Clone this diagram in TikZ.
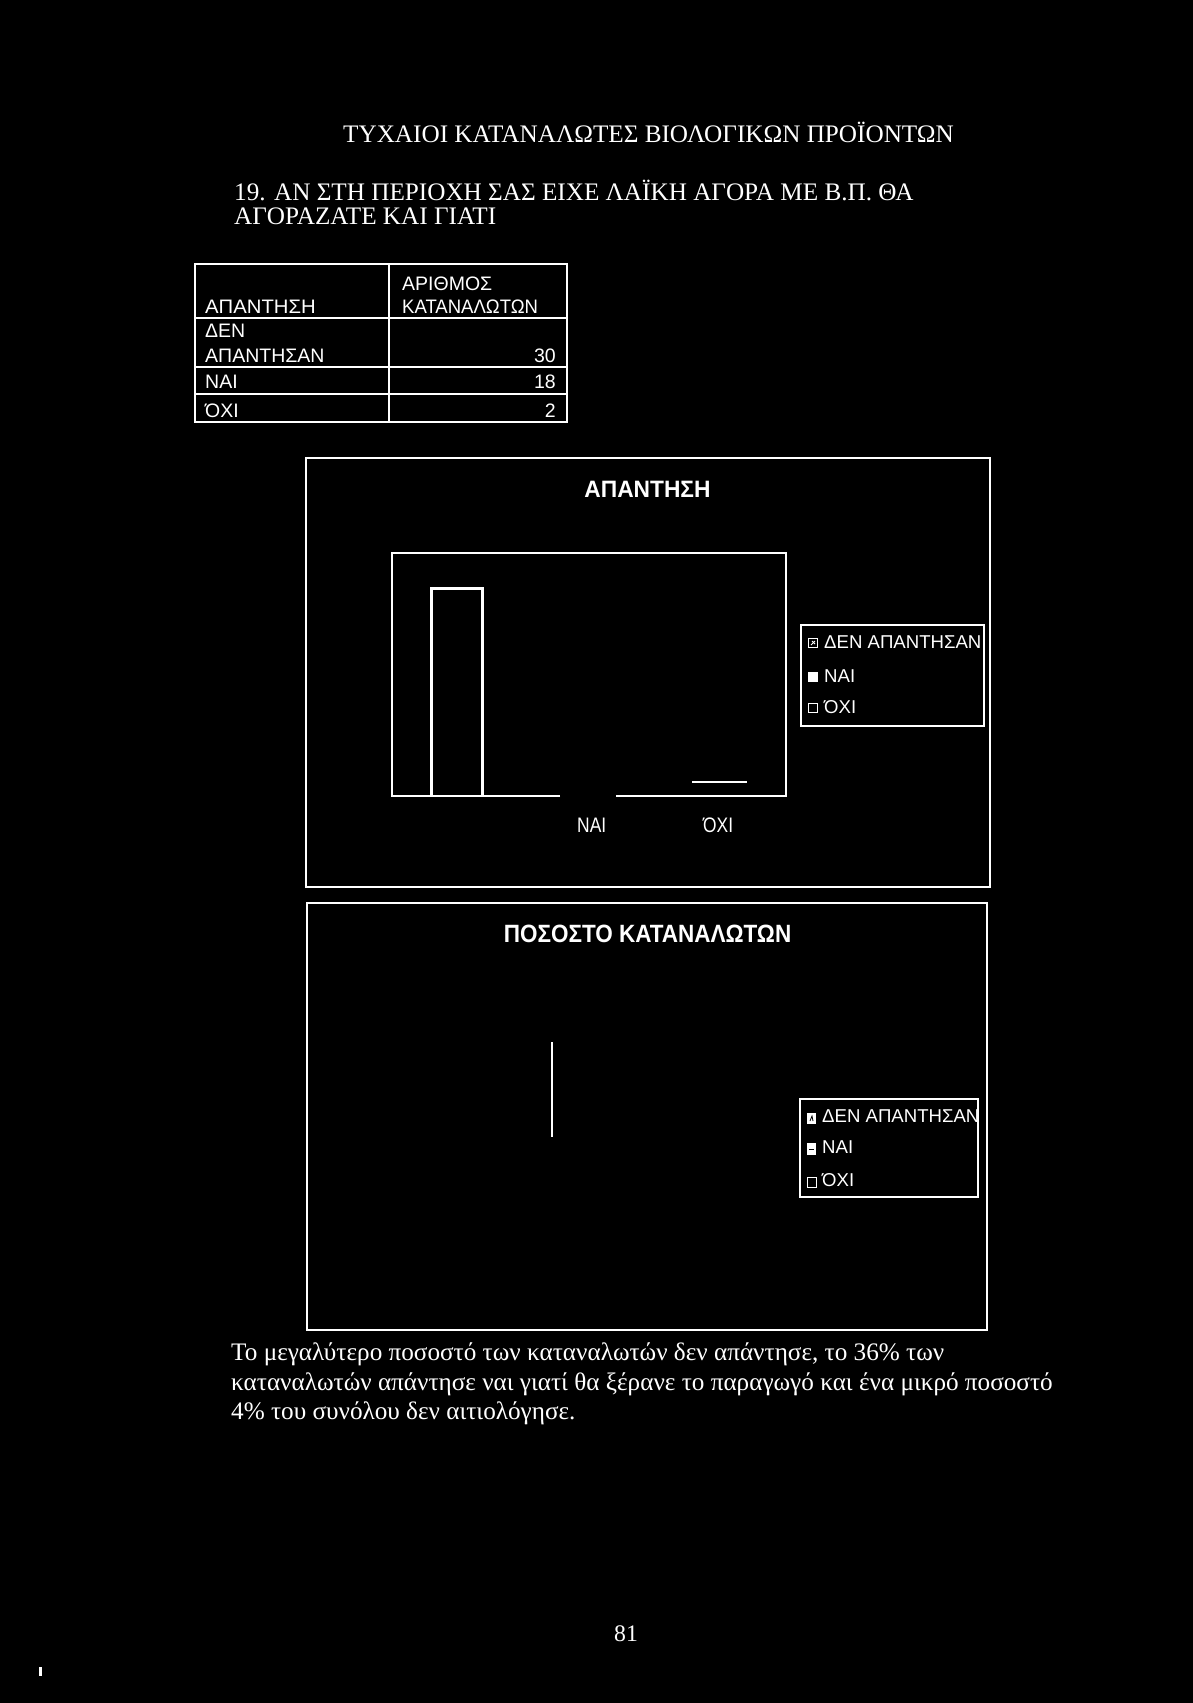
\documentclass[tikz,border=0pt]{standalone}
\usepackage{fontspec}
\usepackage{graphicx}
\setmainfont{Liberation Serif}
\newfontfamily\arialf{Liberation Sans}
\newcommand\serfont{\fontsize{25.2}{30}\selectfont}
\newcommand\parfont{\fontsize{25.2}{30}\selectfont}
\newcommand\tabfont{\arialf\fontsize{19.5}{23}\selectfont}
\newcommand\legfont{\arialf\fontsize{18.6}{22}\selectfont}
\newcommand\catfont{\arialf\fontsize{21}{25}\selectfont}
\newcommand\ttlfont{\arialf\bfseries\fontsize{23.7}{28}\selectfont}
\newcommand\ttlfontb{\arialf\bfseries\fontsize{25}{30}\selectfont}
\begin{document}
\begin{tikzpicture}[x=1pt,y=-1pt,
  txt/.style={text=white, inner sep=0pt, anchor=base west},
  txtr/.style={text=white, inner sep=0pt, anchor=base east},
  txtc/.style={text=white, inner sep=0pt, anchor=base},
  frame/.style={draw=white, line width=1.6pt},
  thin/.style={draw=white, line width=1.3pt},
  barline/.style={draw=white, line width=3pt}]
\fill[black] (0,0) rectangle (1193,1703);
\useasboundingbox (0,0) rectangle (1193,1703);

% headings
\node[txt, font=\serfont] (h1) at (343,142) {ΤΥΧΑΙΟΙ ΚΑΤΑΝΑΛΩΤΕΣ ΒΙΟΛΟΓΙΚΩΝ ΠΡΟΪΟΝΤΩΝ};
\node[txt, font=\serfont] (h2) at (234,200) {19. ΑΝ ΣΤΗ ΠΕΡΙΟΧΗ ΣΑΣ ΕΙΧΕ ΛΑΪΚΗ ΑΓΟΡΑ ΜΕ Β.Π. ΘΑ};
\node[txt, font=\serfont] (h3) at (234,224) {ΑΓΟΡΑΖΑΤΕ ΚΑΙ ΓΙΑΤΙ};

% table
\draw[frame] (195,264) rectangle (567,422);
\draw[frame] (389,264) -- (389,422);
\draw[frame] (195,318) -- (567,318);
\draw[frame] (195,367) -- (567,367);
\draw[frame] (195,394) -- (567,394);
\node[txt, font=\tabfont] (t11) at (205,313) {\scalebox{1.04}[1]{ΑΠΑΝΤΗΣΗ}};
\node[txt, font=\tabfont] (t12a) at (402,290) {ΑΡΙΘΜΟΣ};
\node[txt, font=\tabfont] (t12b) at (402,313) {\scalebox{0.95}[1]{ΚΑΤΑΝΑΛΩΤΩΝ}};
\node[txt, font=\tabfont] (t21a) at (205,337) {ΔΕΝ};
\node[txt, font=\tabfont] (t21b) at (205,362) {ΑΠΑΝΤΗΣΑΝ};
\node[txtr, font=\tabfont] (t22) at (556,362) {30};
\node[txt, font=\tabfont] (t31) at (205,388) {ΝΑΙ};
\node[txtr, font=\tabfont] (t32) at (556,388) {18};
\node[txt, font=\tabfont] (t41) at (205,417) {ΌΧΙ};
\node[txtr, font=\tabfont] (t42) at (556,417) {2};

% chart 1
\draw[frame] (306,458) rectangle (990,887);
\node[txtc, font=\ttlfont] (c1t) at (647.5,497) {\scalebox{0.96}[1]{ΑΠΑΝΤΗΣΗ}};
\draw[thin] (560,796) -- (392,796) -- (392,553) -- (786,553) -- (786,796) -- (616,796);
\draw[barline] (431.5,796) -- (431.5,588.5) -- (482.5,588.5) -- (482.5,796);
\draw[thin] (692,782) -- (747,782);
\node[txt, font=\catfont] (c1x1) at (577,832) {\scalebox{0.83}[1]{ΝΑΙ}};
\node[txt, font=\catfont] (c1x2) at (703,832) {\scalebox{0.83}[1]{ΌΧΙ}};
% legend 1
\draw[thin] (801,625) rectangle (984,726);
\draw[white, line width=1pt] (808.5,638.5) rectangle (817.5,647.5);
\draw[white, line width=1pt] (811,645) -- (815,641) (812,641) -- (815,644);
\fill[white] (808,672) rectangle (818,682);
\draw[white, line width=1pt] (808.5,703.5) rectangle (817.5,712.5);
\node[txt, font=\legfont] (l1a) at (824,648) {ΔΕΝ ΑΠΑΝΤΗΣΑΝ};
\node[txt, font=\legfont] (l1b) at (824,682) {ΝΑΙ};
\node[txt, font=\legfont] (l1c) at (824,713) {ΌΧΙ};

% chart 2
\draw[frame] (307,903) rectangle (987,1330);
\node[txtc, font=\ttlfontb] (c2t) at (647.5,942) {\scalebox{0.9}[1]{ΠΟΣΟΣΤΟ ΚΑΤΑΝΑΛΩΤΩΝ}};
\coordinate (v1) at (552,1042);
\coordinate (v2) at (552,1137);
\draw[thin] (v1) -- (v2);
% legend 2
\draw[thin] (800,1099) rectangle (978,1197);
\fill[white] (807,1113) rectangle (816,1124);
\draw[black, line width=0.8pt] (810,1121) -- (812,1116) -- (813,1121);
\fill[white] (807,1143) rectangle (816,1155);
\draw[black, line width=1pt] (809,1149) -- (814,1149);
\draw[white, line width=1pt] (807.5,1177.5) rectangle (816.5,1187.5);
\node[txt, font=\legfont] (l2a) at (822,1122) {ΔΕΝ ΑΠΑΝΤΗΣΑΝ};
\node[txt, font=\legfont] (l2b) at (822,1153) {ΝΑΙ};
\node[txt, font=\legfont] (l2c) at (822,1186) {ΌΧΙ};

% paragraph
\node[txt, font=\parfont] (p1) at (231,1360) {Το μεγαλύτερο ποσοστό των καταναλωτών δεν απάντησε, το 36\% των};
\node[txt, font=\parfont] (p2) at (231,1390) {καταναλωτών απάντησε ναι γιατί θα ξέρανε το παραγωγό και ένα μικρό ποσοστό};
\node[txt, font=\parfont] (p3) at (231,1419) {4\% του συνόλου δεν αιτιολόγησε.};

% page number and stray mark
\node[txt, font=\fontsize{23.7}{28}\selectfont] (pg) at (614,1641) {81};
\fill[white] (39,1667) rectangle (42,1676);
\end{tikzpicture}
\end{document}
